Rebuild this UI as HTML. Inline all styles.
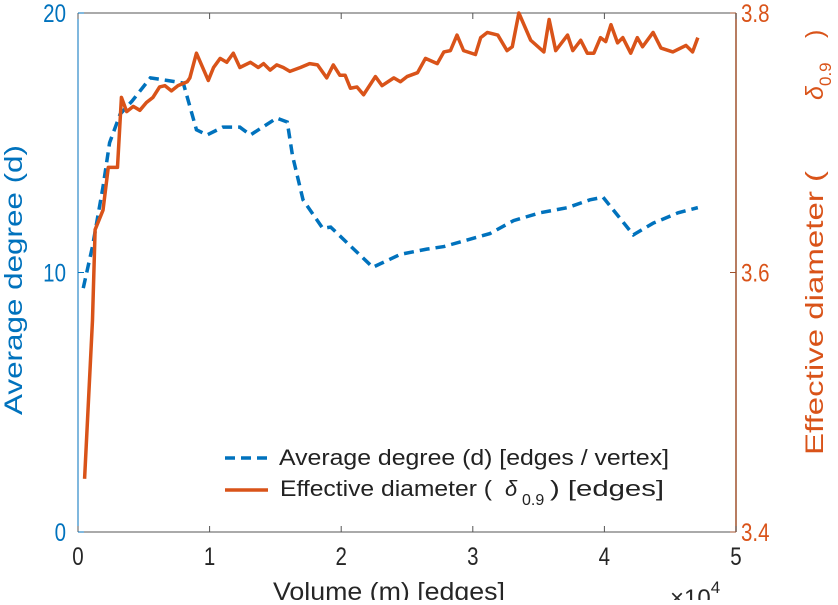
<!DOCTYPE html>
<html><head><meta charset="utf-8"><style>
html,body{margin:0;padding:0;background:#fff;}
svg text{font-family:"Liberation Sans",sans-serif;}
</style></head><body>
<svg id="chart" width="838" height="600" xmlns="http://www.w3.org/2000/svg">
<g id="axes"></g>
<g id="series"></g>
<g id="legend">
  <line x1="225" y1="458" x2="268" y2="458" stroke="#0072BD" stroke-width="3.5" stroke-dasharray="10,6"/>
  <text x="279" y="465" font-size="22" fill="#222" textLength="390" lengthAdjust="spacingAndGlyphs">Average degree (d) [edges / vertex]</text>
  <line x1="225" y1="490" x2="268" y2="490" stroke="#D95319" stroke-width="3.5"/>
  <text x="280" y="496" font-size="22" fill="#222" textLength="212" lengthAdjust="spacingAndGlyphs">Effective diameter (</text>
  <text x="505" y="496" font-size="22" fill="#222" font-style="italic">δ</text>
  <text x="522" y="505" font-size="16" fill="#222">0.9</text>
  <text x="550" y="496" font-size="22" fill="#222" textLength="114" lengthAdjust="spacingAndGlyphs">) [edges]</text>
</g>
</svg>
<script>
const degX=[0.04,0.11,0.19,0.24,0.32,0.41,0.55,0.68,0.80,0.90,0.98,1.10,1.23,1.31,1.51,1.59,1.63,1.71,1.86,1.92,2.24,2.45,2.65,2.78,3.13,3.31,3.51,3.72,3.89,3.99,4.22,4.37,4.56,4.71];
const degY=[9.4,11.0,13.3,15.0,16.1,16.6,17.5,17.4,17.3,15.5,15.3,15.6,15.6,15.3,15.95,15.8,14.5,12.8,11.7,11.75,10.2,10.7,10.9,11.0,11.5,12.0,12.3,12.5,12.8,12.9,11.45,11.9,12.3,12.5];
const diaX=[0.05,0.11,0.13,0.19,0.23,0.30,0.33,0.37,0.42,0.47,0.52,0.57,0.62,0.66,0.71,0.76,0.83,0.85,0.90,0.99,1.03,1.08,1.13,1.18,1.23,1.31,1.37,1.41,1.46,1.51,1.56,1.61,1.69,1.76,1.82,1.89,1.94,1.99,2.03,2.07,2.12,2.17,2.26,2.31,2.40,2.45,2.50,2.58,2.64,2.73,2.78,2.83,2.88,2.93,3.02,3.06,3.11,3.19,3.26,3.30,3.35,3.44,3.54,3.58,3.63,3.72,3.76,3.82,3.87,3.92,3.97,4.01,4.05,4.10,4.14,4.20,4.25,4.29,4.37,4.43,4.52,4.62,4.67,4.71];
const diaY=[3.441,3.563,3.633,3.648,3.681,3.681,3.735,3.724,3.728,3.725,3.731,3.735,3.743,3.744,3.740,3.744,3.747,3.750,3.769,3.748,3.758,3.765,3.762,3.769,3.758,3.762,3.758,3.761,3.756,3.760,3.758,3.755,3.758,3.761,3.760,3.750,3.760,3.752,3.752,3.742,3.743,3.737,3.751,3.744,3.750,3.747,3.751,3.754,3.765,3.761,3.770,3.771,3.783,3.771,3.768,3.781,3.785,3.783,3.771,3.774,3.800,3.779,3.770,3.795,3.771,3.783,3.771,3.779,3.769,3.769,3.781,3.778,3.791,3.777,3.781,3.769,3.781,3.774,3.785,3.773,3.770,3.775,3.770,3.781];
const xTicks=[0,1,2,3,4,5];
const yLeftTicks=[0,10,20];
const yRightTicks=[3.4,3.6,3.8];

const L=78,R=736,T=13,B=532;
const sx=v=>L+(v-0)/5*(R-L);
const syL=v=>B-(v-0)/20*(B-T);
const syR=v=>B-(v-3.4)/0.4*(B-T);
const NS="http://www.w3.org/2000/svg";
function mk(tag,attrs,parent){const e=document.createElementNS(NS,tag);for(const k in attrs)e.setAttribute(k,attrs[k]);parent.appendChild(e);return e;}
const ax=document.getElementById('axes'), sr=document.getElementById('series');

let e;
e=mk('line',{x1:L,y1:T,x2:R,y2:T,stroke:'#555',"stroke-width":1},ax);


e=mk('line',{x1:L,y1:B,x2:R,y2:B,stroke:'#555',"stroke-width":1},ax);


e=mk('line',{x1:L,y1:T,x2:L,y2:B,stroke:'#0072BD',"stroke-width":1},ax);


e=mk('line',{x1:R,y1:T,x2:R,y2:B,stroke:'#A0522D',"stroke-width":1.5},ax);



xTicks.forEach(v=>{
  const x=sx(v);
  mk('line',{x1:x,y1:B,x2:x,y2:B-6,stroke:'#555'},ax);
  mk('line',{x1:x,y1:T,x2:x,y2:T+6,stroke:'#555'},ax);
  const t=mk('text',{x:x,y:B+33,"text-anchor":"middle","font-size":25,fill:'#262626',transform:`translate(${x},0) scale(0.82,1) translate(${-x},0)`},ax);
  t.textContent=v;
  
  
});
yLeftTicks.forEach(v=>{
  const y=syL(v);
  mk('line',{x1:L,y1:y,x2:L+6,y2:y,stroke:'#0072BD'},ax);
  const t=mk('text',{x:66,y:y+9,"text-anchor":"end","font-size":25,fill:'#0072BD',transform:`translate(66,0) scale(0.82,1) translate(-66,0)`},ax);
  t.textContent=v;
  
  
});
yRightTicks.forEach(v=>{
  const y=syR(v);
  mk('line',{x1:R,y1:y,x2:R-6,y2:y,stroke:'#A0522D'},ax);
  const t=mk('text',{x:741,y:y+9,"font-size":25,fill:'#D95319',transform:`translate(741,0) scale(0.82,1) translate(-741,0)`},ax);
  t.textContent=v.toFixed(1);
  
  
});
e=mk('text',{x:273,y:600,"font-size":25,fill:'#262626',textLength:232,lengthAdjust:'spacingAndGlyphs'},ax);
e.textContent='Volume (m) [edges]';


e=mk('text',{x:670,y:606,"font-size":24,fill:'#262626'},ax);
e.innerHTML='×10<tspan font-size="17" dy="-13">4</tspan>';


e=mk('text',{x:0,y:0,"font-size":25,fill:'#0072BD',transform:'translate(22,415) rotate(-90)',textLength:270,lengthAdjust:'spacingAndGlyphs'},ax);
e.textContent='Average degree (d)';


e=mk('text',{x:0,y:0,"font-size":25,fill:'#D95319',transform:'translate(823,455) rotate(-90)',textLength:284,lengthAdjust:'spacingAndGlyphs'},ax);
e.textContent='Effective diameter (';


e=mk('text',{x:0,y:0,"font-size":25,fill:'#D95319',"font-style":"italic",transform:'translate(823,100) rotate(-90)'},ax);
e.textContent='δ';


e=mk('text',{x:0,y:0,"font-size":17,fill:'#D95319',transform:'translate(831,86) rotate(-90)'},ax);
e.textContent='0.9';


e=mk('text',{x:0,y:0,"font-size":25,fill:'#D95319',transform:'translate(823,38) rotate(-90)'},ax);
e.textContent=')';



e=mk('polyline',{points:degX.map((x,i)=>sx(x)+','+syL(degY[i])).join(' '),fill:'none',stroke:'#0072BD',"stroke-width":3.5,"stroke-dasharray":"10,6"},sr);


e=mk('polyline',{points:diaX.map((x,i)=>sx(x)+','+syR(diaY[i])).join(' '),fill:'none',stroke:'#D95319',"stroke-width":3.5,"stroke-linejoin":"round"},sr);


</script>
</body></html>
